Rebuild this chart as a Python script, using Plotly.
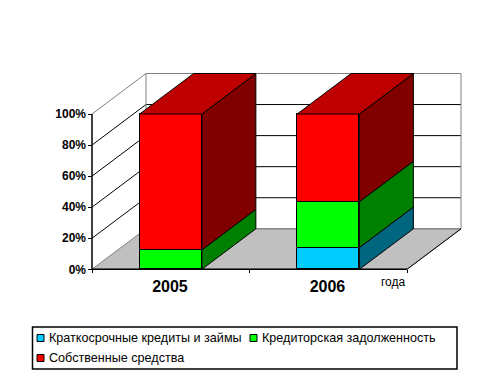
import plotly.graph_objects as go

categories = ["2005", "2006"]
short_term = [0, 14]
payables = [12.5, 29.5]
equity = [87.5, 56.5]
series_names = ["Краткосрочные кредиты и займы", "Кредиторская задолженность", "Собственные средства"]
front_colors = ["#00CCFF", "#00FF00", "#FF0000"]
side_colors = ["#006680", "#008000", "#800000"]
top_color = "#BF0000"
y_ticks = [0, 20, 40, 60, 80, 100]

W, H = 494, 379
ML, MR, MT, MB = 88, 30, 71, 106
PX_X = 157.5
PX_Y = 1.553
DX = 54 / PX_X
DY = 40.5 / PX_Y
BAR_W = 0.395
FONT = "Arial, 'Liberation Sans', sans-serif"
x_pos = [1, 2]
X0, X1 = 0.5, 2.5

fig = go.Figure()
series = [short_term, payables, equity]
for name, vals, col in zip(series_names, series, front_colors):
    fig.add_trace(go.Bar(x=x_pos, y=vals, name=name, width=BAR_W, marker=dict(color=col, line=dict(color="black", width=1)), showlegend=False))

for i, xc in enumerate(x_pos):
    xl, xr = xc - BAR_W / 2, xc + BAR_W / 2
    base = 0
    for vals, col in zip(series, side_colors):
        v = vals[i]
        if v > 0:
            t = base + v
            fig.add_trace(go.Scatter(x=[xr, xr + DX, xr + DX, xr, xr], y=[base, base + DY, t + DY, t, base], mode="lines", fill="toself", fillcolor=col, line=dict(color="black", width=1), showlegend=False, hoverinfo="skip"))
            base = t
    fig.add_trace(go.Scatter(x=[xl, xr, xr + DX, xl + DX, xl], y=[base, base, base + DY, base + DY, base], mode="lines", fill="toself", fillcolor=top_color, line=dict(color="black", width=1), showlegend=False, hoverinfo="skip"))

shapes = []
def seg(x0, y0, x1, y1, color="black", width=1, layer="below"):
    shapes.append(dict(type="line", xref="x", yref="y", x0=x0, y0=y0, x1=x1, y1=y1, line=dict(color=color, width=width), layer=layer))

# floor
shapes.append(dict(type="path", xref="x", yref="y", layer="below", fillcolor="#C0C0C0", line=dict(color="#808080", width=1),
                   path=f"M{X0},0 L{X0+DX},{DY} L{X1+DX},{DY} L{X1},0 Z"))
# walls
for v in y_ticks:
    c = "#808080" if v in (0, 100) else "black"
    if v > 0:
        seg(X0, v, X0 + DX, v + DY, c)
    seg(X0 + DX, v + DY, X1 + DX, v + DY, c)
seg(X0 + DX, DY, X0 + DX, 100 + DY, "#808080")
seg(X1 + DX, DY, X1 + DX, 100 + DY, "#808080")
seg(X1, 0, X1 + DX, DY, "black")
seg(X0, 0, X0, 100, "black", 1.5, "above")
seg(X0, 0, X1, 0, "black", 1.5, "below")

def lx(x):
    return (x - ML) / (W - ML - MR)
def ly(y):
    return (H - MB - y) / (H - MT - MB)

# legend box
shapes.append(dict(type="rect", xref="paper", yref="paper", x0=lx(32.5), x1=lx(457), y0=ly(369), y1=ly(327), line=dict(color="black", width=1.5), fillcolor="white", layer="above"))
legend_pos = [(37, 338), (250, 338), (37, 358)]
anns = []
for (lxp, lyp), name, col in zip(legend_pos, series_names, front_colors):
    shapes.append(dict(type="rect", xref="paper", yref="paper", x0=lx(lxp), x1=lx(lxp + 7), y0=ly(lyp + 3.5), y1=ly(lyp - 3.5), fillcolor=col, line=dict(color="black", width=1), layer="above"))
    anns.append(dict(xref="paper", yref="paper", x=lx(lxp + 10), y=ly(lyp), text=name, showarrow=False, xanchor="left", yanchor="middle", font=dict(family=FONT, size=12.6, color="black")))
anns.append(dict(xref="paper", yref="paper", x=lx(393), y=ly(282), text="года", showarrow=False, xanchor="center", yanchor="middle", font=dict(family=FONT, size=12, color="black")))

fig.update_layout(
    width=W, height=H, barmode="stack", bargap=0, paper_bgcolor="white", plot_bgcolor="white",
    margin=dict(l=ML, r=MR, t=MT, b=MB, pad=0), shapes=shapes, annotations=anns, showlegend=False,
    xaxis=dict(range=[X0 - 4 / PX_X, X0 + (W - MR - ML - 4) / PX_X], tickmode="array", tickvals=[0.995, 1.995], ticktext=categories,
               tickfont=dict(family=FONT, size=16, color="black", weight=700), showgrid=False, zeroline=False, showline=False, ticks="",
               ticklabelstandoff=2,
               minor=dict(tickmode="array", tickvals=[0.5, 1.5, 2.5], ticks="inside", ticklen=3, tickcolor="black", tickwidth=1, showgrid=False)),
    yaxis=dict(range=[-3.7 / PX_Y, (269.3 - MT) / PX_Y], tickmode="array", tickvals=y_ticks, ticktext=[f"{v}%" for v in y_ticks],
               tickfont=dict(family=FONT, size=12, color="black", weight=700), showgrid=False, zeroline=False, showline=False,
               ticks="inside", ticklen=4, tickcolor="black", tickwidth=1, ticklabelstandoff=1),
    font=dict(family=FONT),
)
fig.write_html("out.html", config={"displayModeBar": False}, post_script="document.body.style.margin='0';")
